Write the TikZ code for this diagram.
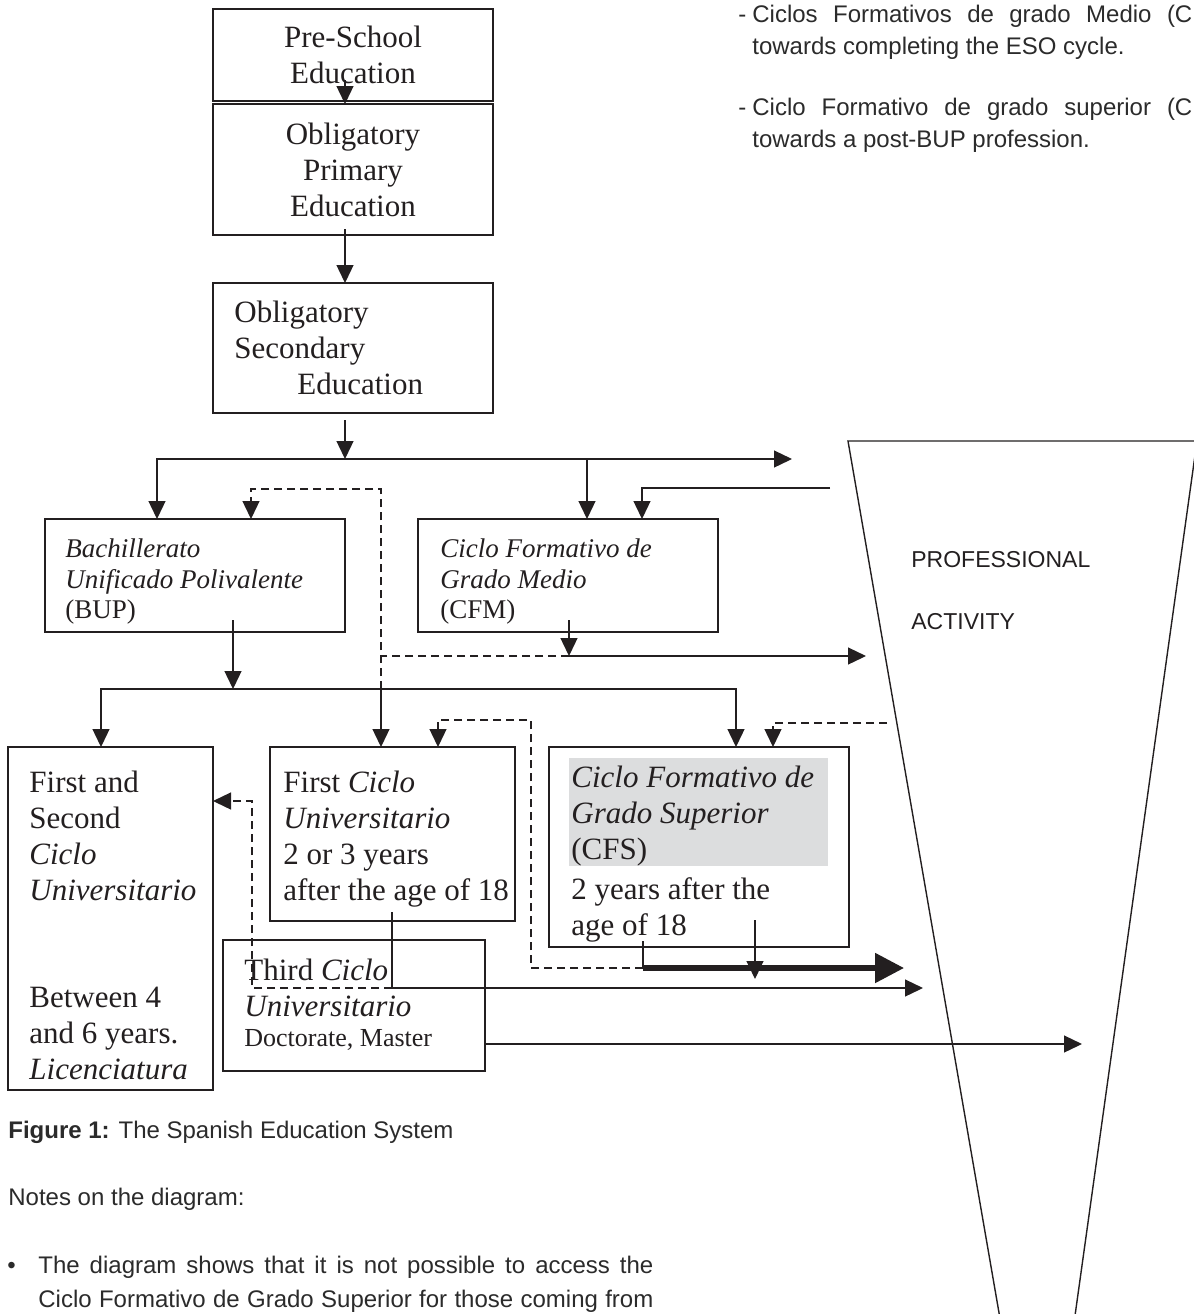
\documentclass[tikz,border=0pt]{standalone}
\usepackage{fontspec}
\setmainfont{Liberation Serif}
\newfontfamily\notesans{Liberation Sans}
\usetikzlibrary{arrows.meta,positioning,calc}
\definecolor{ink}{HTML}{231F20}
\definecolor{notegray}{HTML}{2B2B2B}
\definecolor{cfsgray}{HTML}{DCDDDE}
\newcommand{\stagefont}{\fontsize{15.5pt}{18pt}\selectfont}
\newcommand{\smallstagefont}{\fontsize{13.5pt}{15.3pt}\selectfont}
\newcommand{\notesfont}{\notesans\fontsize{12pt}{16.5pt}\selectfont}
\tikzset{
  stage/.style={draw=ink, line width=0.7pt, inner sep=0pt, outer sep=0pt, anchor=north west, font=\stagefont, text=ink},
  stagetext/.style={inner sep=0pt, anchor=north west, align=left, font=\stagefont, text=ink},
  note/.style={inner sep=0pt, anchor=base west, font=\notesfont, text=notegray},
  worklabel/.style={inner sep=0pt, anchor=base west, font=\notesans\fontsize{11.5pt}{14pt}\selectfont, text=ink},
  flow/.style={draw=ink, line width=0.65pt},
  arrow/.style={flow, -{Triangle[length=9pt,width=8.5pt]}},
  dashflow/.style={flow, dash pattern=on 4pt off 2.5pt},
  dasharrow/.style={arrow, dash pattern=on 4pt off 2.5pt},
  thickarrow/.style={draw=ink, line width=2.6pt, -{Triangle[length=14.5pt,width=14.5pt]}}
}
\begin{document}
\begin{tikzpicture}[x=0.5pt, y=-0.5pt]
\useasboundingbox (0,0) rectangle (1194,1314);
\fill[white] (0,0) rectangle (1194,1314);
% notes at the top right
\node[note] (dashA) at (738,22) {-};
\node[note] (cfmnote) at (752,22) {\makebox[220pt][s]{Ciclos Formativos de grado Medio (C}};
\node[note] (cfmnote2) at (752,54) {towards completing the ESO cycle.};
\node[note] (dashB) at (738,115) {-};
\node[note] (cfsnote) at (752,115) {\makebox[220pt][s]{Ciclo Formativo de grado superior (C}};
\node[note] (cfsnote2) at (752,147) {towards a post-BUP profession.};
% stages
\node[stage, minimum width=140pt, minimum height=46pt, align=center] (pre) at (213,9) {Pre-School\\Education};
\node[stage, minimum width=140pt, minimum height=65.5pt, align=center] (prim) at (213,104) {Obligatory\\Primary\\Education};
\node[stage, minimum width=140pt, minimum height=65pt] (sec) at (213,283) {};
\node[stagetext, below right=9pt and 10.5pt of sec.north west] (sectxt) {Obligatory\\Secondary\\\hspace*{31.5pt}Education};
\node[stage, minimum width=150pt, minimum height=56.5pt] (bup) at (45,519) {};
\node[stagetext, font=\smallstagefont, below right=9.8pt and 10pt of bup.north west] (buptxt) {\textit{Bachillerato}\\\textit{Unificado Polivalente}\\(BUP)};
\node[stage, minimum width=150pt, minimum height=56.5pt] (cfm) at (418,519) {};
\node[stagetext, font=\smallstagefont, below right=9.8pt and 11pt of cfm.north west] (cfmtxt) {\textit{Ciclo Formativo de}\\\textit{Grado Medio}\\(CFM)};
\node[stage, minimum width=102.5pt, minimum height=171.5pt] (univ) at (8,747) {};
\node[stagetext, below right=12pt and 10.5pt of univ.north west] (univtxt) {First and\\Second\\\textit{Ciclo}\\\textit{Universitario}\\[35.5pt]Between 4\\and 6 years.\\\textit{Licenciatura}};
\node[stage, minimum width=122.5pt, minimum height=87pt] (first) at (270,747) {};
\node[stagetext, below right=12pt and 6.5pt of first.north west] (firsttxt) {First \textit{Ciclo}\\\textit{Universitario}\\2 or 3 years\\after the age of 18};
\node[stage, minimum width=131pt, minimum height=65.5pt] (third) at (223,940) {};
\node[stagetext, below right=9.5pt and 10.5pt of third.north west] (thirdtxt) {Third \textit{Ciclo}\\\textit{Universitario}\\[-3pt]{\fontsize{13pt}{15pt}\selectfont Doctorate, Master}};
\node[stage, minimum width=150pt, minimum height=100pt] (cfs) at (549,747) {};
\fill[cfsgray] ($(cfs.north west)+(20,11)$) rectangle ($(cfs.north west)+(279,119)$);
\node[stagetext, below right=9.5pt and 11pt of cfs.north west] (cfstxt) {\textit{Ciclo Formativo de}\\\textit{Grado Superior}\\(CFS)\\[2pt]2 years after the\\age of 18};
% professional activity
\draw[ink, line width=0.7pt] (1002,1330) -- (848,441) -- (1197,441) -- (1073,1330);
\node[worklabel] (prof) at (911,567) {PROFESSIONAL};
\node[worklabel] (act) at (911,629) {ACTIVITY};
% named points
\coordinate (spine) at (345,0);
\coordinate (esosplit) at (345,459);
\coordinate (bupsplit) at (233,689);
\coordinate (cfmout) at (569,656);
\coordinate (cfsout) at (643,968);
\coordinate (firstout) at (392,988);
\coordinate (univin) at ([xshift=46.5pt]univ.north west);
\coordinate (firstin) at ([xshift=55.5pt]first.north west);
\coordinate (cfsin) at ([xshift=93.5pt]cfs.north west);
\coordinate (cfsdrop) at (755,979);
\coordinate (toworkA) at (792,459);
\coordinate (fromworkA) at (830,488);
\coordinate (toworkB) at (866,656);
\coordinate (fromworkB) at (887,723);
\coordinate (toworkC) at (904,968);
\coordinate (toworkD) at (923,988);
\coordinate (toworkE) at (1082,1044);
% connectors
\draw[arrow] ([yshift=10.5pt]pre.south -| spine) -- (prim.north -| spine);
\draw[arrow] ([yshift=3pt]prim.south -| spine) -- (sec.north -| spine);
\draw[arrow] ([yshift=-3.5pt]sec.south -| spine) -- (esosplit);
\draw[arrow] (esosplit) -- (toworkA);
\draw[arrow] (esosplit) -| ([xshift=56pt]bup.north west);
\draw[arrow] (esosplit) -| ([xshift=84.5pt]cfm.north west);
\draw[arrow] (fromworkA) -| ([xshift=112pt]cfm.north west);
\draw[dasharrow] (bupsplit -| firstin) |- ([xshift=103pt,yshift=15pt]bup.north west) -- ([xshift=103pt]bup.north west);
\draw[dashflow] (cfmout) -- (cfmout -| firstin);
\draw[arrow] ([xshift=75.5pt,yshift=6pt]cfm.south west) -- (cfmout);
\draw[arrow] (cfmout) -- (toworkB);
\draw[arrow] ([xshift=94pt,yshift=6pt]bup.south west) -- (bupsplit);
\draw[flow] (bupsplit -| univin) -- (bupsplit -| cfsin);
\draw[arrow] (bupsplit) -| (univin);
\draw[arrow] (bupsplit) -| (firstin);
\draw[arrow] (bupsplit) -| (cfsin);
\draw[dasharrow] (fromworkB) -| ([xshift=112pt]cfs.north west);
\draw[flow] ([xshift=47pt,yshift=3pt]cfs.south west) -- (cfsout);
\draw[dasharrow] (cfsout) -| ([xshift=130.5pt,yshift=13.5pt]first.north west) -| ([xshift=84pt]first.north west);
\draw[thickarrow] (cfsout) -- (toworkC);
\draw[arrow] ([xshift=103pt,yshift=13.5pt]cfs.south west) -- (cfsdrop);
\draw[flow] ([xshift=61pt,yshift=4.5pt]first.south west) -- (firstout);
\draw[arrow] (firstout) -- (toworkD);
\draw[dasharrow] (firstout) -| ([xshift=19.5pt,yshift=-27pt]univ.north east) -- ([yshift=-27pt]univ.north east);
\draw[arrow] ([yshift=-52pt]third.north east) -- (toworkE);
% caption and notes
\node[note] (caption) at (8,1138) {\textbf{Figure 1:} The Spanish Education System};
\node[note] (notes) at (8,1205) {Notes on the diagram:};
\node[note] (bullet) at (7,1273) {\textbullet};
\node[note] (noteA) at (38,1273) {\makebox[307.5pt][s]{The diagram shows that it is not possible to access the}};
\node[note] (noteB) at (38,1307) {\makebox[307.5pt][s]{Ciclo Formativo de Grado Superior for those coming from}};
\end{tikzpicture}
\end{document}
